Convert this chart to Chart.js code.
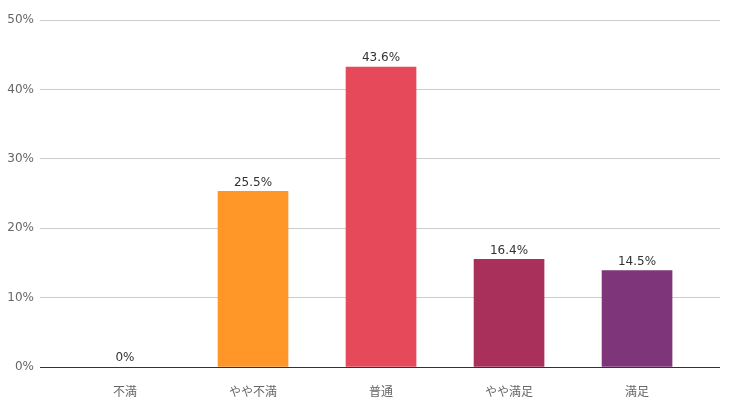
<!DOCTYPE html>
<html>
<head>
<meta charset="utf-8">
<script src="https://cdn.jsdelivr.net/npm/chart.js@4"></script>
<style>
  body { margin: 0; background: #fff; }
  #wrap { width: 740px; height: 415px; }
</style>
</head>
<body>
<div id="wrap"><canvas id="myChart"></canvas></div>
<script>
const categories = ["不満", "やや不満", "普通", "やや満足", "満足"];
// bar heights as drawn, and the labels printed above them
const values = [0, 25.3, 43.2, 15.5, 13.9];
const valueLabels = ["0%", "25.5%", "43.6%", "16.4%", "14.5%"];
const colors = ["#FF9628", "#FF9628", "#E5495A", "#A9305A", "#7E3579"];
const yTicks = [0, 10, 20, 30, 40, 50];

const font = "'DejaVu Sans', 'Noto Sans CJK JP', sans-serif";

// labels above the bars
const barLabels = {
    id: 'barLabels',
    afterDatasetsDraw(chart) {
        const ctx = chart.ctx;
        const meta = chart.getDatasetMeta(0);
        ctx.save();
        ctx.font = "12px " + font;
        ctx.fillStyle = "#333";
        ctx.textAlign = "center";
        ctx.textBaseline = "bottom";
        meta.data.forEach((bar, i) => {
            ctx.fillText(valueLabels[i], bar.x, bar.y - 3);
        });
        ctx.restore();
    }
};

const data = {
    datasets: [{
        data: values.map((v, i) => ({ x: i, y: v })),
        // a zero bar leaves a faint sliver, so hide it
        backgroundColor: (c) => values[c.dataIndex] === 0 ? "rgba(0,0,0,0)" : colors[c.dataIndex],
        barThickness: 70,
        borderWidth: 0
    }]
};

const config = {
    type: 'bar',
    data,
    options: {
        responsive: true,
        maintainAspectRatio: false,
        animation: false,
        layout: { padding: { top: 20, right: 20, left: 0, bottom: 0 } },
        plugins: {
            legend: { display: false },
            tooltip: { enabled: false }
        },
        scales: {
            x: {
                type: 'linear',
                offset: false,
                min: -0.664,
                max: 4.648,
                grid: { display: false, drawTicks: false },
                border: { display: false },
                afterBuildTicks: (scale) => {
                    scale.ticks = categories.map((c, i) => ({ value: i }));
                },
                afterFit: (scale) => { scale.height = 48; },
                ticks: {
                    padding: 19,
                    color: "#666",
                    font: { family: font, size: 12 },
                    callback: (v) => categories[v]
                }
            },
            y: {
                min: 0,
                max: 50,
                grid: {
                    drawTicks: false,
                    color: (c) => c.tick && c.tick.value === 0 ? "#333" : "#ccc"
                },
                border: { display: false },
                afterBuildTicks: (scale) => {
                    scale.ticks = yTicks.map(v => ({ value: v }));
                },
                afterFit: (scale) => { scale.width = 40; },
                ticks: {
                    padding: 6,
                    color: "#666",
                    font: { family: font, size: 12 },
                    callback: (v) => v + "%"
                }
            }
        }
    },
    plugins: [barLabels]
};

const myChart = new Chart(document.getElementById('myChart'), config);
</script>
</body>
</html>
